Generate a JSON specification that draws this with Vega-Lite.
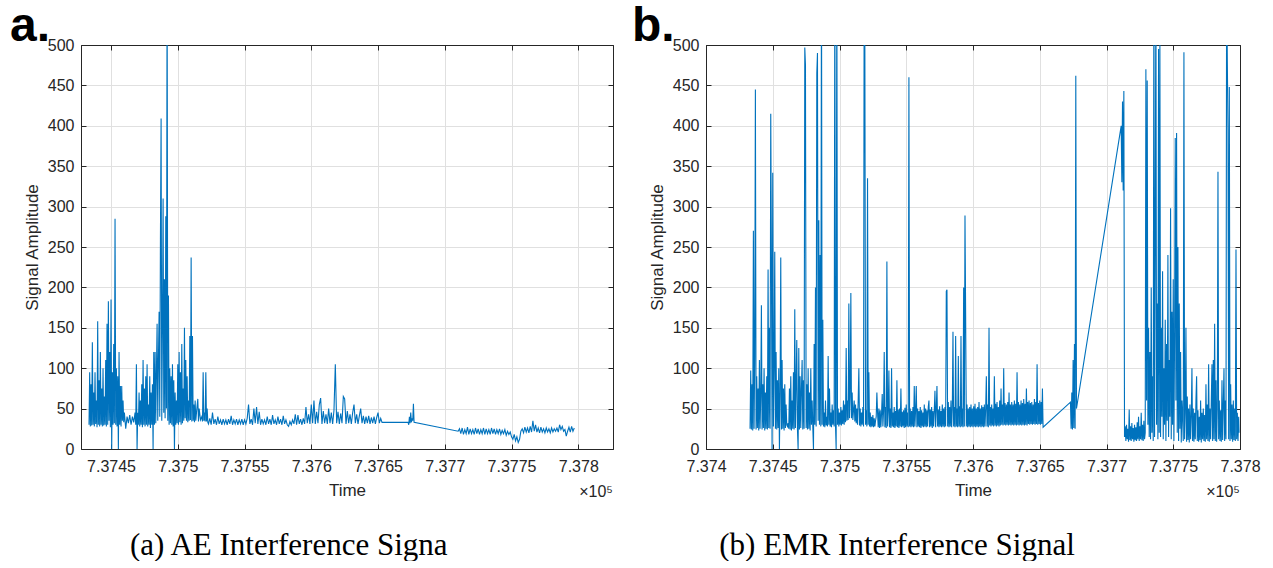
{
"$schema": "https://vega.github.io/schema/vega-lite/v6.json",
"background": "white",
"padding": {"left": 9, "top": 2, "right": 0, "bottom": 0},
"spacing": 17,
"config": {
 "font": "Liberation Sans",
 "view": {"stroke": "#262626", "strokeWidth": 1},
 "axis": {"labelFont": "Liberation Sans", "labelFontSize": 16, "labelColor": "#262626", "titleFont": "Liberation Sans", "titleFontSize": 17, "titleFontWeight": "normal", "titleColor": "#262626", "gridColor": "#e0e0e0", "gridOpacity": 1, "domainColor": "#262626", "tickColor": "#262626", "tickSize": -5, "labelFlush": false, "labelOverlap": false},
 "axisX": {"labelPadding": 14, "titlePadding": 8},
 "axisY": {"labelPadding": 12, "titlePadding": 6}
},
"datasets": {
"ae": [
{"t":737433.5,"v":30},{"t":737434,"v":95},{"t":737434.5,"v":28},{"t":737435,"v":80},{"t":737435.5,"v":29},{"t":737436,"v":132},{"t":737436.5,"v":30},{"t":737437,"v":70},{"t":737437.5,"v":28},{"t":737438,"v":95},{"t":737438.5,"v":31},{"t":737439,"v":60},{"t":737439.5,"v":27},{"t":737440,"v":158},{"t":737440.5,"v":30},{"t":737441,"v":85},{"t":737441.5,"v":28},{"t":737442,"v":120},{"t":737442.5,"v":30},{"t":737443,"v":75},{"t":737443.5,"v":28},{"t":737444,"v":100},{"t":737444.5,"v":29},{"t":737445,"v":65},{"t":737445.5,"v":30},{"t":737446,"v":110},{"t":737446.5,"v":28},{"t":737447,"v":155},{"t":737447.5,"v":30},{"t":737448,"v":183},{"t":737448.5,"v":35},{"t":737449,"v":120},{"t":737449.5,"v":27},{"t":737450,"v":185},{"t":737450.5,"v":0},{"t":737451,"v":95},{"t":737451.5,"v":30},{"t":737452,"v":130},{"t":737452.5,"v":32},{"t":737453,"v":285},{"t":737453.5,"v":30},{"t":737454,"v":100},{"t":737454.5,"v":28},{"t":737455,"v":90},{"t":737455.5,"v":0},{"t":737456,"v":120},{"t":737456.5,"v":30},{"t":737457,"v":78},{"t":737457.5,"v":28},{"t":737458,"v":78},{"t":737458.5,"v":35},{"t":737459,"v":60},{"t":737459.5,"v":33},
{"t":737460,"v":45},{"t":737461,"v":25},{"t":737462,"v":40},{"t":737463,"v":32},{"t":737464,"v":42},{"t":737465,"v":30},{"t":737466,"v":40},{"t":737467,"v":33},{"t":737468,"v":45},
{"t":737468.5,"v":30},{"t":737469,"v":105},{"t":737469.5,"v":0},{"t":737470,"v":45},{"t":737470.5,"v":30},{"t":737471,"v":70},{"t":737471.5,"v":28},{"t":737472,"v":60},{"t":737472.5,"v":30},{"t":737473,"v":80},{"t":737473.5,"v":27},{"t":737474,"v":110},{"t":737474.5,"v":30},{"t":737475,"v":75},{"t":737475.5,"v":28},{"t":737476,"v":90},{"t":737476.5,"v":30},{"t":737477,"v":105},{"t":737477.5,"v":28},{"t":737478,"v":55},{"t":737478.5,"v":30},{"t":737479,"v":90},{"t":737479.5,"v":26},{"t":737480,"v":70},{"t":737480.5,"v":30},{"t":737481,"v":80},{"t":737481.5,"v":0},{"t":737482,"v":120},{"t":737482.5,"v":30},{"t":737483,"v":120},{"t":737483.5,"v":32},{"t":737484,"v":95},{"t":737484.5,"v":155},{"t":737485,"v":35},{"t":737485.5,"v":110},{"t":737486,"v":170},{"t":737486.5,"v":40},{"t":737487,"v":260},{"t":737487.5,"v":409},{"t":737488,"v":35},{"t":737488.5,"v":150},{"t":737489,"v":310},{"t":737489.5,"v":45},{"t":737490,"v":210},{"t":737490.5,"v":38},{"t":737491,"v":288},{"t":737491.5,"v":50},{"t":737492,"v":600},{"t":737492.5,"v":35},{"t":737493,"v":190},{"t":737493.5,"v":30},{"t":737494,"v":100},{"t":737494.5,"v":32},{"t":737495,"v":90},{"t":737495.5,"v":30},{"t":737496,"v":105},{"t":737496.5,"v":28},{"t":737497,"v":85},{"t":737497.5,"v":0},{"t":737498,"v":70},{"t":737498.5,"v":30},{"t":737499,"v":60},{"t":737499.5,"v":32},{"t":737500,"v":105},{"t":737500.5,"v":30},{"t":737501,"v":120},{"t":737501.5,"v":33},{"t":737502,"v":95},{"t":737502.5,"v":30},{"t":737503,"v":130},{"t":737503.5,"v":32},{"t":737504,"v":75},{"t":737504.5,"v":35},{"t":737505,"v":150},{"t":737505.5,"v":38},{"t":737506,"v":110},{"t":737506.5,"v":35},{"t":737507,"v":90},{"t":737507.5,"v":33},{"t":737508,"v":60},{"t":737508.5,"v":35},{"t":737509,"v":140},{"t":737509.5,"v":36},{"t":737510,"v":237},{"t":737510.5,"v":34},{"t":737511,"v":140},{"t":737511.5,"v":35},{"t":737512,"v":55},{"t":737512.5,"v":33},{"t":737513,"v":60},{"t":737513.5,"v":35},{"t":737514,"v":45},{"t":737515,"v":62},{"t":737515.5,"v":34},{"t":737516,"v":50},{"t":737517,"v":36},{"t":737518,"v":40},{"t":737518.5,"v":34},{"t":737519,"v":95},{"t":737519.5,"v":35},{"t":737520,"v":45},{"t":737520.5,"v":34},{"t":737521,"v":95},{"t":737521.5,"v":34},{"t":737522,"v":50},{"t":737522.5,"v":33},
{"t":737523,"v":31},{"t":737524,"v":38},{"t":737525,"v":30},{"t":737526,"v":45},{"t":737527,"v":31},{"t":737528,"v":37},{"t":737529,"v":30},{"t":737530,"v":40},{"t":737531,"v":31},{"t":737532,"v":36},{"t":737533,"v":30},{"t":737534,"v":37},{"t":737535,"v":31},{"t":737536,"v":36},{"t":737537,"v":30},{"t":737538,"v":37},{"t":737539,"v":31},{"t":737540,"v":41},{"t":737541,"v":30},{"t":737542,"v":36},{"t":737543,"v":31},{"t":737544,"v":37},{"t":737545,"v":30},{"t":737546,"v":36},{"t":737547,"v":31},{"t":737548,"v":37},{"t":737549,"v":30},{"t":737550,"v":36},{"t":737551,"v":31},{"t":737552,"v":38},{"t":737553,"v":55},{"t":737554,"v":31},{"t":737555,"v":37},{"t":737556,"v":30},{"t":737557,"v":50},{"t":737558,"v":32},{"t":737559,"v":52},{"t":737560,"v":31},{"t":737561,"v":46},{"t":737562,"v":30},{"t":737563,"v":37},{"t":737564,"v":31},{"t":737565,"v":36},{"t":737566,"v":30},{"t":737567,"v":40},{"t":737568,"v":31},{"t":737569,"v":37},{"t":737570,"v":30},{"t":737571,"v":42},{"t":737572,"v":31},{"t":737573,"v":36},{"t":737574,"v":30},{"t":737575,"v":40},{"t":737576,"v":31},{"t":737577,"v":37},{"t":737578,"v":30},{"t":737579,"v":41},{"t":737580,"v":31},{"t":737581,"v":36},{"t":737582,"v":30},{"t":737583,"v":28},{"t":737584,"v":34},{"t":737585,"v":30},{"t":737586,"v":36},{"t":737587,"v":31},{"t":737588,"v":43},{"t":737589,"v":30},{"t":737590,"v":42},{"t":737591,"v":31},{"t":737592,"v":37},{"t":737593,"v":30},{"t":737594,"v":38},{"t":737595,"v":31},{"t":737596,"v":52},{"t":737597,"v":32},{"t":737598,"v":43},{"t":737599,"v":31},{"t":737600,"v":55},{"t":737601,"v":32},{"t":737602,"v":60},{"t":737603,"v":31},{"t":737604,"v":46},{"t":737605,"v":32},{"t":737606,"v":55},{"t":737607,"v":63},{"t":737608,"v":31},{"t":737609,"v":47},{"t":737610,"v":32},{"t":737611,"v":43},{"t":737612,"v":31},{"t":737613,"v":50},{"t":737614,"v":32},{"t":737615,"v":45},{"t":737616,"v":31},{"t":737617,"v":48},{"t":737618,"v":105},{"t":737619,"v":32},{"t":737620,"v":46},{"t":737621,"v":31},{"t":737622,"v":44},{"t":737623,"v":32},{"t":737624,"v":65},{"t":737625,"v":62},{"t":737626,"v":31},{"t":737627,"v":47},{"t":737628,"v":32},{"t":737629,"v":43},{"t":737630,"v":31},{"t":737631,"v":45},{"t":737632,"v":55},{"t":737633,"v":32},{"t":737634,"v":43},{"t":737635,"v":31},{"t":737636,"v":41},{"t":737637,"v":50},{"t":737638,"v":32},{"t":737639,"v":41},{"t":737640,"v":31},{"t":737641,"v":40},{"t":737642,"v":32},{"t":737643,"v":41},{"t":737644,"v":31},{"t":737645,"v":39},{"t":737646,"v":32},{"t":737647,"v":40},{"t":737648,"v":31},{"t":737649,"v":39},{"t":737650,"v":45},{"t":737651,"v":32},{"t":737652,"v":38},
{"t":737653,"v":33},{"t":737672.5,"v":33},
{"t":737673,"v":30},{"t":737673.5,"v":40},{"t":737674,"v":32},{"t":737674.5,"v":45},{"t":737675,"v":33},{"t":737675.5,"v":38},{"t":737676,"v":35},{"t":737676.5,"v":56},{"t":737677,"v":33},
{"t":737710,"v":22},
{"t":737711,"v":25},{"t":737712,"v":19},{"t":737713,"v":26},{"t":737714,"v":18},{"t":737715,"v":24},{"t":737716,"v":19},{"t":737717,"v":27},{"t":737718,"v":18},{"t":737719,"v":25},{"t":737720,"v":19},{"t":737721,"v":24},{"t":737722,"v":18},{"t":737723,"v":26},{"t":737724,"v":19},{"t":737725,"v":25},{"t":737726,"v":18},{"t":737727,"v":24},{"t":737728,"v":19},{"t":737729,"v":26},{"t":737730,"v":18},{"t":737731,"v":25},{"t":737732,"v":19},{"t":737733,"v":24},{"t":737734,"v":18},{"t":737735,"v":26},{"t":737736,"v":19},{"t":737737,"v":25},{"t":737738,"v":18},{"t":737739,"v":24},{"t":737740,"v":19},{"t":737741,"v":25},{"t":737742,"v":18},{"t":737743,"v":23},{"t":737744,"v":19},{"t":737745,"v":24},{"t":737746,"v":17},{"t":737747,"v":22},{"t":737748,"v":18},{"t":737749,"v":21},{"t":737750,"v":15},
{"t":737751,"v":12},{"t":737752,"v":18},{"t":737753,"v":10},{"t":737754,"v":15},{"t":737755,"v":8},{"t":737756,"v":12},{"t":737757,"v":22},
{"t":737758,"v":25},{"t":737759,"v":20},{"t":737760,"v":27},{"t":737761,"v":21},{"t":737762,"v":26},{"t":737763,"v":20},{"t":737764,"v":28},{"t":737765,"v":21},{"t":737766,"v":35},{"t":737767,"v":22},{"t":737768,"v":30},{"t":737769,"v":21},{"t":737770,"v":26},{"t":737771,"v":20},{"t":737772,"v":27},{"t":737773,"v":21},{"t":737774,"v":25},{"t":737775,"v":20},{"t":737776,"v":26},{"t":737777,"v":21},{"t":737778,"v":25},{"t":737779,"v":20},{"t":737780,"v":26},{"t":737781,"v":21},{"t":737782,"v":25},{"t":737783,"v":22},{"t":737784,"v":26},{"t":737785,"v":21},{"t":737786,"v":30},{"t":737787,"v":24},{"t":737788,"v":28},{"t":737789,"v":22},{"t":737790,"v":24},{"t":737791,"v":16},{"t":737792,"v":22},{"t":737793,"v":27},{"t":737794,"v":21},{"t":737795,"v":28},{"t":737796,"v":22},{"t":737797,"v":26}
],
"emr": [
{"t":737433,"v":25},{"t":737433.5,"v":97},{"t":737434,"v":24},{"t":737434.5,"v":80},{"t":737435,"v":23},{"t":737435.5,"v":270},{"t":737436,"v":25},{"t":737436.5,"v":115},{"t":737437,"v":445},{"t":737437.5,"v":24},{"t":737438,"v":90},{"t":737438.5,"v":26},{"t":737439,"v":75},{"t":737439.5,"v":23},{"t":737440,"v":110},{"t":737440.5,"v":25},{"t":737441,"v":65},{"t":737441.5,"v":178},{"t":737442,"v":24},{"t":737442.5,"v":80},{"t":737443,"v":26},{"t":737443.5,"v":100},{"t":737444,"v":23},{"t":737444.5,"v":70},{"t":737445,"v":25},{"t":737445.5,"v":90},{"t":737446,"v":24},{"t":737446.5,"v":222},{"t":737447,"v":26},{"t":737447.5,"v":150},{"t":737448,"v":25},{"t":737448.5,"v":415},{"t":737449,"v":240},{"t":737449.5,"v":0},{"t":737450,"v":342},{"t":737450.5,"v":28},{"t":737451,"v":100},{"t":737451.5,"v":244},{"t":737452,"v":25},{"t":737452.5,"v":120},{"t":737453,"v":24},{"t":737453.5,"v":85},{"t":737454,"v":26},{"t":737454.5,"v":100},{"t":737455,"v":0},{"t":737455.5,"v":70},{"t":737456,"v":237},{"t":737456.5,"v":24},{"t":737457,"v":110},{"t":737457.5,"v":25},{"t":737458,"v":75},{"t":737458.5,"v":23},{"t":737459,"v":80},{"t":737459.5,"v":26},{"t":737460,"v":55},
{"t":737460.5,"v":30},{"t":737461,"v":28},{"t":737461.5,"v":32},{"t":737462,"v":25},
{"t":737462.5,"v":75},{"t":737463,"v":24},{"t":737463.5,"v":90},{"t":737464,"v":23},{"t":737464.5,"v":60},{"t":737465,"v":25},{"t":737465.5,"v":95},{"t":737466,"v":24},{"t":737466.5,"v":173},{"t":737467,"v":26},{"t":737467.5,"v":80},{"t":737468,"v":135},{"t":737468.5,"v":25},{"t":737469,"v":0},{"t":737469.5,"v":125},{"t":737470,"v":24},{"t":737470.5,"v":90},{"t":737471,"v":26},{"t":737471.5,"v":75},{"t":737472,"v":110},{"t":737472.5,"v":24},{"t":737473,"v":85},{"t":737473.5,"v":25},{"t":737474,"v":497},{"t":737474.5,"v":475},{"t":737475,"v":26},{"t":737475.5,"v":80},{"t":737476,"v":24},{"t":737476.5,"v":100},{"t":737477,"v":25},{"t":737477.5,"v":70},{"t":737478,"v":23},{"t":737478.5,"v":100},
{"t":737479,"v":30},{"t":737479.5,"v":60},{"t":737480,"v":28},{"t":737480.5,"v":0},{"t":737481,"v":130},{"t":737481.5,"v":30},{"t":737482,"v":200},{"t":737482.5,"v":28},{"t":737483,"v":465},{"t":737483.5,"v":490},{"t":737484,"v":35},{"t":737484.5,"v":283},{"t":737485,"v":30},{"t":737485.5,"v":240},{"t":737486,"v":28},{"t":737486.5,"v":600},{"t":737487,"v":30},{"t":737487.5,"v":160},{"t":737488,"v":28},{"t":737488.5,"v":45},{"t":737489,"v":27},{"t":737489.5,"v":60},{"t":737490,"v":29},{"t":737490.5,"v":40},{"t":737491,"v":28},{"t":737491.5,"v":115},{"t":737492,"v":30},{"t":737492.5,"v":75},{"t":737493,"v":28},{"t":737493.5,"v":45},{"t":737494,"v":27},{"t":737494.5,"v":55},{"t":737495,"v":30},{"t":737495.5,"v":48},{"t":737496,"v":28},{"t":737496.5,"v":600},{"t":737497,"v":30},{"t":737497.5,"v":0},{"t":737498,"v":600},{"t":737498.5,"v":30},{"t":737499,"v":50},{"t":737499.5,"v":28},{"t":737500,"v":45},{"t":737500.5,"v":30},{"t":737501,"v":52},{"t":737501.5,"v":29},{"t":737502,"v":48},{"t":737502.5,"v":31},{"t":737503,"v":60},{"t":737503.5,"v":30},{"t":737504,"v":55},{"t":737504.5,"v":33},{"t":737505,"v":125},{"t":737505.5,"v":35},{"t":737506,"v":60},{"t":737506.5,"v":36},{"t":737507,"v":180},{"t":737507.5,"v":38},{"t":737508,"v":65},{"t":737508.5,"v":193},{"t":737509,"v":38},{"t":737509.5,"v":70},{"t":737510,"v":36},{"t":737511,"v":60},{"t":737511.5,"v":34},{"t":737512,"v":55},{"t":737512.5,"v":32},{"t":737513,"v":50},{"t":737513.5,"v":30},{"t":737514,"v":60},{"t":737514.5,"v":100},{"t":737515,"v":29},{"t":737515.5,"v":50},{"t":737516,"v":28},{"t":737516.5,"v":45},{"t":737517,"v":30},{"t":737517.5,"v":52},{"t":737518,"v":28},{"t":737518.5,"v":600},{"t":737519,"v":495},{"t":737519.5,"v":30},{"t":737520,"v":48},{"t":737520.5,"v":28},{"t":737521,"v":335},{"t":737521.5,"v":30},{"t":737522,"v":95},{"t":737522.5,"v":28},{"t":737523,"v":45},{"t":737523.5,"v":27},{"t":737524,"v":40},{"t":737524.5,"v":28},{"t":737525,"v":42},{"t":737525.5,"v":27},{"t":737526,"v":38},{"t":737526.5,"v":28},{"t":737527,"v":35},{"t":737527.5,"v":40},
{"t":737528,"v":70},{"t":737528.5,"v":45},{"t":737529,"v":27},{"t":737529.5,"v":50},{"t":737530,"v":26},{"t":737530.5,"v":48},{"t":737531,"v":27},{"t":737531.5,"v":44},{"t":737532,"v":68},{"t":737532.5,"v":28},{"t":737533,"v":47},{"t":737533.5,"v":120},{"t":737534,"v":27},{"t":737534.5,"v":52},{"t":737535,"v":26},{"t":737535.5,"v":232},{"t":737536,"v":28},{"t":737536.5,"v":46},{"t":737537,"v":97},{"t":737537.5,"v":27},{"t":737538,"v":50},{"t":737538.5,"v":26},{"t":737539,"v":100},{"t":737539.5,"v":28},{"t":737540,"v":45},{"t":737540.5,"v":27},{"t":737541,"v":52},{"t":737541.5,"v":26},{"t":737542,"v":47},{"t":737542.5,"v":28},{"t":737543,"v":85},{"t":737543.5,"v":27},{"t":737544,"v":49},{"t":737544.5,"v":26},{"t":737545,"v":50},{"t":737545.5,"v":28},{"t":737546,"v":75},{"t":737546.5,"v":27},{"t":737547,"v":46},{"t":737547.5,"v":28},{"t":737548,"v":48},{"t":737548.5,"v":26},{"t":737549,"v":51},{"t":737549.5,"v":27},{"t":737550,"v":55},{"t":737550.5,"v":28},{"t":737551,"v":45},{"t":737551.5,"v":27},{"t":737552,"v":460},{"t":737552.5,"v":28},{"t":737553,"v":50},{"t":737553.5,"v":27},{"t":737554,"v":47},{"t":737554.5,"v":28},{"t":737555,"v":52},{"t":737555.5,"v":27},{"t":737556,"v":78},{"t":737556.5,"v":28},{"t":737557,"v":49},{"t":737557.5,"v":78},{"t":737558,"v":27},{"t":737558.5,"v":50},{"t":737559,"v":28},{"t":737559.5,"v":47},{"t":737560,"v":27},{"t":737560.5,"v":52},{"t":737561,"v":26},{"t":737561.5,"v":48},{"t":737562,"v":28},{"t":737562.5,"v":45},{"t":737563,"v":27},{"t":737563.5,"v":55},{"t":737564,"v":28},{"t":737564.5,"v":50},{"t":737565,"v":27},{"t":737565.5,"v":48},{"t":737566,"v":28},{"t":737566.5,"v":52},{"t":737567,"v":60},{"t":737567.5,"v":27},{"t":737568,"v":49},{"t":737568.5,"v":28},{"t":737569,"v":52},{"t":737569.5,"v":26},{"t":737570,"v":47},{"t":737570.5,"v":28},{"t":737571,"v":48},{"t":737571.5,"v":72},{"t":737572,"v":27},{"t":737572.5,"v":50},{"t":737573,"v":78},{"t":737573.5,"v":28},{"t":737574,"v":49},{"t":737574.5,"v":27},{"t":737575,"v":53},{"t":737575.5,"v":28},{"t":737576,"v":47},{"t":737576.5,"v":27},{"t":737577,"v":55},{"t":737577.5,"v":28},{"t":737578,"v":50},{"t":737578.5,"v":27},{"t":737579,"v":52},{"t":737579.5,"v":28},{"t":737580,"v":195},{"t":737580.5,"v":197},{"t":737581,"v":28},{"t":737581.5,"v":58},{"t":737582,"v":27},{"t":737582.5,"v":52},{"t":737583,"v":28},{"t":737583.5,"v":60},{"t":737584,"v":27},{"t":737584.5,"v":50},{"t":737585,"v":145},{"t":737585.5,"v":28},{"t":737586,"v":52},{"t":737586.5,"v":27},{"t":737587,"v":140},{"t":737587.5,"v":28},{"t":737588,"v":50},{"t":737588.5,"v":27},{"t":737589,"v":115},{"t":737589.5,"v":28},{"t":737590,"v":53},{"t":737590.5,"v":27},{"t":737591,"v":140},{"t":737591.5,"v":28},{"t":737592,"v":50},{"t":737592.5,"v":27},{"t":737593,"v":200},{"t":737593.5,"v":28},{"t":737594,"v":289},{"t":737594.5,"v":161},{"t":737595,"v":28},{"t":737595.5,"v":55},{"t":737596,"v":27},{"t":737596.5,"v":50},{"t":737597,"v":28},{"t":737597.5,"v":52},{"t":737598,"v":27},{"t":737598.5,"v":55},{"t":737599,"v":28},{"t":737599.5,"v":50},{"t":737600,"v":27},{"t":737600.5,"v":53},{"t":737601,"v":28},{"t":737601.5,"v":56},{"t":737602,"v":27},{"t":737602.5,"v":50},{"t":737603,"v":28},{"t":737603.5,"v":52},{"t":737604,"v":27},{"t":737604.5,"v":58},{"t":737605,"v":28},{"t":737605.5,"v":50},{"t":737606,"v":27},{"t":737606.5,"v":54},{"t":737607,"v":28},{"t":737607.5,"v":52},{"t":737608,"v":27},{"t":737608.5,"v":55},{"t":737609,"v":28},{"t":737609.5,"v":50},{"t":737610,"v":90},{"t":737610.5,"v":28},{"t":737611,"v":55},{"t":737611.5,"v":27},{"t":737612,"v":150},{"t":737612.5,"v":29},{"t":737613,"v":52},{"t":737613.5,"v":28},{"t":737614,"v":55},{"t":737614.5,"v":29},{"t":737615,"v":50},{"t":737615.5,"v":28},{"t":737616,"v":90},{"t":737616.5,"v":29},{"t":737617,"v":56},{"t":737617.5,"v":28},{"t":737618,"v":58},{"t":737618.5,"v":29},{"t":737619,"v":52},{"t":737619.5,"v":28},{"t":737620,"v":60},{"t":737620.5,"v":29},{"t":737621,"v":75},{"t":737621.5,"v":30},{"t":737622,"v":55},{"t":737622.5,"v":29},{"t":737623,"v":100},{"t":737623.5,"v":30},{"t":737624,"v":57},{"t":737624.5,"v":29},{"t":737625,"v":55},{"t":737625.5,"v":30},{"t":737626,"v":58},{"t":737626.5,"v":29},{"t":737627,"v":70},{"t":737627.5,"v":30},{"t":737628,"v":55},{"t":737628.5,"v":29},{"t":737629,"v":58},{"t":737629.5,"v":30},{"t":737630,"v":55},{"t":737630.5,"v":29},{"t":737631,"v":60},{"t":737631.5,"v":30},{"t":737632,"v":56},{"t":737632.5,"v":29},{"t":737633,"v":95},{"t":737633.5,"v":30},{"t":737634,"v":58},{"t":737634.5,"v":29},{"t":737635,"v":55},{"t":737635.5,"v":30},{"t":737636,"v":60},{"t":737636.5,"v":29},{"t":737637,"v":57},{"t":737637.5,"v":30},{"t":737638,"v":62},{"t":737638.5,"v":29},{"t":737639,"v":56},{"t":737639.5,"v":30},{"t":737640,"v":75},{"t":737640.5,"v":29},{"t":737641,"v":58},{"t":737641.5,"v":31},{"t":737642,"v":60},{"t":737642.5,"v":30},{"t":737643,"v":57},{"t":737643.5,"v":31},{"t":737644,"v":58},{"t":737644.5,"v":30},{"t":737645,"v":55},{"t":737645.5,"v":31},{"t":737646,"v":62},{"t":737646.5,"v":30},{"t":737647,"v":58},{"t":737647.5,"v":31},{"t":737648,"v":105},{"t":737648.5,"v":30},{"t":737649,"v":57},{"t":737649.5,"v":31},{"t":737650,"v":60},{"t":737650.5,"v":30},{"t":737651,"v":58},{"t":737651.5,"v":31},{"t":737652,"v":75},{"t":737652.5,"v":27},
{"t":737673,"v":58},{"t":737673.5,"v":25},{"t":737674,"v":70},{"t":737674.5,"v":24},{"t":737675,"v":110},{"t":737675.5,"v":26},{"t":737676,"v":130},{"t":737676.5,"v":25},{"t":737677,"v":462},{"t":737677.5,"v":50},
{"t":737711,"v":400},{"t":737711.5,"v":330},{"t":737712,"v":430},{"t":737712.5,"v":320},{"t":737713,"v":443},{"t":737713.5,"v":15},
{"t":737714,"v":28},{"t":737714.5,"v":10},{"t":737715,"v":30},{"t":737715.5,"v":12},{"t":737716,"v":25},{"t":737716.5,"v":9},{"t":737717,"v":49},{"t":737717.5,"v":11},{"t":737718,"v":28},{"t":737718.5,"v":10},{"t":737719,"v":32},{"t":737719.5,"v":12},{"t":737720,"v":26},{"t":737720.5,"v":9},{"t":737721,"v":30},{"t":737721.5,"v":11},{"t":737722,"v":27},{"t":737722.5,"v":10},{"t":737723,"v":33},{"t":737723.5,"v":12},{"t":737724,"v":40},{"t":737724.5,"v":10},{"t":737725,"v":28},{"t":737725.5,"v":12},{"t":737726,"v":45},{"t":737726.5,"v":11},{"t":737727,"v":30},{"t":737727.5,"v":10},{"t":737728,"v":35},{"t":737728.5,"v":12},
{"t":737729,"v":20},{"t":737729.5,"v":470},{"t":737730,"v":60},{"t":737730.5,"v":456},{"t":737731,"v":30},{"t":737731.5,"v":150},{"t":737732,"v":15},{"t":737732.5,"v":120},{"t":737733,"v":12},{"t":737733.5,"v":200},{"t":737734,"v":20},{"t":737734.5,"v":90},{"t":737735,"v":10},{"t":737735.5,"v":600},{"t":737736,"v":15},{"t":737736.5,"v":250},{"t":737737,"v":600},{"t":737737.5,"v":30},{"t":737738,"v":180},{"t":737738.5,"v":12},{"t":737739,"v":495},{"t":737739.5,"v":20},{"t":737740,"v":500},{"t":737740.5,"v":15},{"t":737741,"v":150},{"t":737741.5,"v":40},{"t":737742,"v":220},{"t":737742.5,"v":12},{"t":737743,"v":100},{"t":737743.5,"v":30},{"t":737744,"v":160},{"t":737744.5,"v":10},{"t":737745,"v":130},{"t":737745.5,"v":35},{"t":737746,"v":240},{"t":737746.5,"v":15},{"t":737747,"v":110},{"t":737747.5,"v":40},{"t":737748,"v":298},{"t":737748.5,"v":12},{"t":737749,"v":170},{"t":737749.5,"v":30},{"t":737750,"v":210},{"t":737750.5,"v":10},{"t":737751,"v":140},{"t":737751.5,"v":385},{"t":737752,"v":60},{"t":737752.5,"v":391},{"t":737753,"v":20},{"t":737753.5,"v":250},{"t":737754,"v":10},{"t":737754.5,"v":180},{"t":737755,"v":25},{"t":737755.5,"v":120},{"t":737756,"v":8},{"t":737756.5,"v":60},
{"t":737757,"v":40},{"t":737757.5,"v":10},{"t":737758,"v":491},{"t":737758.5,"v":12},{"t":737759,"v":45},{"t":737759.5,"v":150},{"t":737760,"v":9},{"t":737760.5,"v":65},{"t":737761,"v":11},{"t":737761.5,"v":50},{"t":737762,"v":8},{"t":737762.5,"v":55},{"t":737763,"v":12},{"t":737763.5,"v":40},{"t":737764,"v":100},{"t":737764.5,"v":10},{"t":737765,"v":50},{"t":737765.5,"v":9},{"t":737766,"v":45},{"t":737766.5,"v":12},{"t":737767,"v":60},{"t":737767.5,"v":90},{"t":737768,"v":10},{"t":737768.5,"v":48},{"t":737769,"v":9},{"t":737769.5,"v":40},{"t":737770,"v":11},{"t":737770.5,"v":60},{"t":737771,"v":8},{"t":737771.5,"v":45},{"t":737772,"v":12},{"t":737772.5,"v":50},{"t":737773,"v":10},{"t":737773.5,"v":42},{"t":737774,"v":9},{"t":737774.5,"v":80},{"t":737775,"v":12},{"t":737775.5,"v":55},{"t":737776,"v":10},{"t":737776.5,"v":105},{"t":737777,"v":9},{"t":737777.5,"v":50},{"t":737778,"v":12},{"t":737778.5,"v":60},{"t":737779,"v":105},{"t":737779.5,"v":10},{"t":737780,"v":110},{"t":737780.5,"v":12},{"t":737781,"v":155},{"t":737781.5,"v":10},{"t":737782,"v":85},{"t":737782.5,"v":9},{"t":737783,"v":50},{"t":737783.5,"v":343},{"t":737784,"v":12},{"t":737784.5,"v":60},{"t":737785,"v":10},{"t":737785.5,"v":48},{"t":737786,"v":9},{"t":737786.5,"v":85},{"t":737787,"v":11},{"t":737787.5,"v":55},{"t":737788,"v":100},{"t":737788.5,"v":10},{"t":737789,"v":60},{"t":737789.5,"v":12},{"t":737790,"v":600},{"t":737790.5,"v":480},{"t":737791,"v":395},{"t":737791.5,"v":12},{"t":737792,"v":448},{"t":737792.5,"v":10},{"t":737793,"v":80},{"t":737793.5,"v":12},{"t":737794,"v":55},{"t":737794.5,"v":9},{"t":737795,"v":60},{"t":737795.5,"v":11},{"t":737796,"v":50},{"t":737796.5,"v":10},{"t":737797,"v":247},{"t":737797.5,"v":12},{"t":737798,"v":45},{"t":737798.5,"v":10},{"t":737799,"v":40},{"t":737799.3,"v":20}
]
},
"hconcat": [
 {
  "title": {"text": "(a) AE Interference Signa", "orient": "bottom", "anchor": "middle", "font": "Liberation Serif", "fontSize": 31, "fontWeight": "normal", "color": "#000000", "offset": 30, "dx": -23},
  "vconcat": [
   {
    "title": {"text": "a.", "anchor": "start", "frame": "group", "font": "Liberation Sans", "fontSize": 48, "fontWeight": "bold", "color": "#000000", "dx": -71, "offset": -14},
    "width": 532,
    "height": 404,
    "layer": [
     {
      "data": {"name": "ae"},
      "mark": {"type": "line", "color": "#0072BD", "strokeWidth": 1.1, "clip": true},
      "encoding": {
       "x": {"field": "t", "type": "quantitative", "scale": {"domain": [737427.5, 737826], "nice": false, "zero": false}, "axis": {"title": "Time", "values": [737450, 737500, 737550, 737600, 737650, 737700, 737750, 737800], "labelExpr": "format(datum.value/100000, '.4~f')", "grid": true}},
       "y": {"field": "v", "type": "quantitative", "scale": {"domain": [0, 500], "nice": false}, "axis": {"title": "Signal Amplitude", "values": [0, 50, 100, 150, 200, 250, 300, 350, 400, 450, 500], "grid": true}}
      }
     },
     {
      "data": {"values": [{}]},
      "mark": {"type": "text", "text": "×10⁵", "align": "right", "baseline": "alphabetic", "dy": 48, "fontSize": 16, "font": "Liberation Sans", "color": "#262626"},
      "encoding": {
       "x": {"datum": 737826, "type": "quantitative", "axis": {"orient": "top", "labels": false, "title": null, "grid": false, "values": [737450, 737500, 737550, 737600, 737650, 737700, 737750, 737800]}},
       "y": {"datum": 0, "type": "quantitative", "axis": {"orient": "right", "labels": false, "title": null, "grid": false, "values": [0, 50, 100, 150, 200, 250, 300, 350, 400, 450, 500]}}
      }
     }
    ],
    "resolve": {"axis": {"x": "independent", "y": "independent"}}
   }
  ]
 },
 {
  "title": {"text": "(b) EMR Interference Signal", "orient": "bottom", "anchor": "middle", "font": "Liberation Serif", "fontSize": 31, "fontWeight": "normal", "color": "#000000", "offset": 30, "dx": -49},
  "vconcat": [
   {
    "title": {"text": "b.", "anchor": "start", "frame": "group", "font": "Liberation Sans", "fontSize": 48, "fontWeight": "bold", "color": "#000000", "dx": -74, "offset": -14},
    "width": 534,
    "height": 404,
    "layer": [
     {
      "data": {"name": "emr"},
      "mark": {"type": "line", "color": "#0072BD", "strokeWidth": 1.1, "clip": true},
      "encoding": {
       "x": {"field": "t", "type": "quantitative", "scale": {"domain": [737400, 737800], "nice": false, "zero": false}, "axis": {"title": "Time", "values": [737400, 737450, 737500, 737550, 737600, 737650, 737700, 737750, 737800], "labelExpr": "format(datum.value/100000, '.4~f')", "grid": true}},
       "y": {"field": "v", "type": "quantitative", "scale": {"domain": [0, 500], "nice": false}, "axis": {"title": "Signal Amplitude", "values": [0, 50, 100, 150, 200, 250, 300, 350, 400, 450, 500], "grid": true}}
      }
     },
     {
      "data": {"values": [{}]},
      "mark": {"type": "text", "text": "×10⁵", "align": "right", "baseline": "alphabetic", "dy": 48, "fontSize": 16, "font": "Liberation Sans", "color": "#262626"},
      "encoding": {
       "x": {"datum": 737800, "type": "quantitative", "axis": {"orient": "top", "labels": false, "title": null, "grid": false, "values": [737400, 737450, 737500, 737550, 737600, 737650, 737700, 737750, 737800]}},
       "y": {"datum": 0, "type": "quantitative", "axis": {"orient": "right", "labels": false, "title": null, "grid": false, "values": [0, 50, 100, 150, 200, 250, 300, 350, 400, 450, 500]}}
      }
     }
    ],
    "resolve": {"axis": {"x": "independent", "y": "independent"}}
   }
  ]
 }
]
}
